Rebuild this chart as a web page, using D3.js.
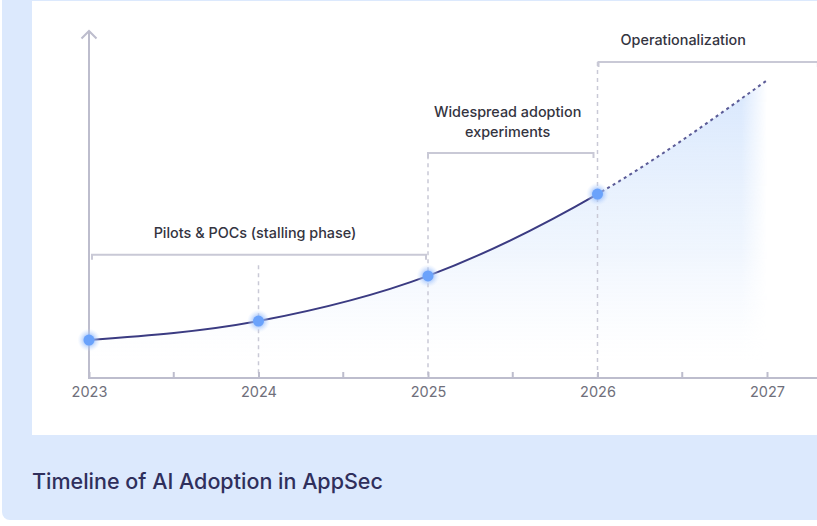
<!DOCTYPE html>
<html>
<head>
<meta charset="utf-8">
<script src="https://cdn.jsdelivr.net/npm/d3@7"></script>
<style>
  html, body { margin: 0; padding: 0; background: #ffffff; }
  svg { display: block; }
</style>
</head>
<body>
<svg id="chart" width="817" height="526"></svg>
<script>
// ---- data ----
const years = [2023, 2024, 2025, 2026, 2027];
const adoption = [11, 16.5, 29.6, 53.3, 86.3];      // relative adoption level (2027 projected)
const projectedFrom = 2026;
const tickYears = [2023, 2024, 2025, 2026, 2027];
const minorTicks = [2023.5, 2024.5, 2025.5, 2026.5];
const phaseNames = [["Pilots & POCs (stalling phase)"], ["Widespread adoption", "experiments"], ["Operationalization"]];
const phaseStart = [2023, 2025, 2026];
const phaseEnd = [2025, 2026, 2027.3];
const phaseLevel = [35.7, 65.2, 91.6];               // bracket heights on the level scale
const titleText = "Timeline of AI Adoption in AppSec";

// ---- layout ----
const svg = d3.select("#chart");
const W = 817, H = 526;
const FONT = "Inter, 'Noto Sans', sans-serif";
const x = d3.scaleLinear().domain([2023, 2027]).range([89, 767]);
const y = d3.scaleLinear().domain([0, 100]).range([378, 33]);

const defs = svg.append("defs");
const vg = defs.append("linearGradient").attr("id", "areaGrad")
  .attr("gradientUnits", "userSpaceOnUse").attr("x1", 0).attr("y1", y(86)).attr("x2", 0).attr("y2", y(5));
vg.append("stop").attr("offset", "0%").attr("stop-color", "#d6e6fd").attr("stop-opacity", 0.95);
vg.append("stop").attr("offset", "60%").attr("stop-color", "#e3eefd").attr("stop-opacity", 0.55);
vg.append("stop").attr("offset", "100%").attr("stop-color", "#eef4fe").attr("stop-opacity", 0);

const hg = defs.append("linearGradient").attr("id", "fadeRight")
  .attr("gradientUnits", "userSpaceOnUse").attr("x1", x(2026.85)).attr("y1", 0).attr("x2", x(2027)).attr("y2", 0);
hg.append("stop").attr("offset", "0%").attr("stop-color", "#fff").attr("stop-opacity", 1);
hg.append("stop").attr("offset", "100%").attr("stop-color", "#fff").attr("stop-opacity", 0);
defs.append("mask").attr("id", "areaMask")
  .append("rect").attr("x", 0).attr("y", 0).attr("width", W).attr("height", H).attr("fill", "url(#fadeRight)");

const glow = defs.append("radialGradient").attr("id", "glow");
glow.append("stop").attr("offset", "40%").attr("stop-color", "#8fb8fb").attr("stop-opacity", 0.75);
glow.append("stop").attr("offset", "100%").attr("stop-color", "#cfe0fd").attr("stop-opacity", 0);

// panels
svg.append("rect").attr("x", 2).attr("y", -12).attr("width", W + 20).attr("height", 532)
  .attr("rx", 8).attr("fill", "#dce9fd");
svg.append("rect").attr("x", 32).attr("y", 1).attr("width", W).attr("height", 434).attr("fill", "#ffffff");

// title
svg.append("text").attr("x", 32).attr("y", 489).text(titleText)
  .attr("font-family", FONT).attr("font-size", 21.5).attr("font-weight", 500)
  .attr("fill", "#2f2f5c");

const pts = years.map((yr, i) => ({ yr, v: adoption[i] }));

// area
const area = d3.area().curve(d3.curveMonotoneX)
  .x(d => x(d.yr)).y0(y(0)).y1(d => y(d.v));
svg.append("path").datum(pts).attr("d", area)
  .attr("fill", "url(#areaGrad)").attr("mask", "url(#areaMask)");

// vertical dashed guides
const guideTop = { 2024: phaseLevel[0] - 3, 2025: phaseLevel[1] - 0.6, 2026: phaseLevel[2] };
svg.selectAll(".guide").data([2024, 2025, 2026]).enter().append("line")
  .attr("x1", d => x(d)).attr("x2", d => x(d))
  .attr("y1", d => y(guideTop[d])).attr("y2", y(0))
  .attr("stroke", "#c9c9d6").attr("stroke-width", 1.5).attr("stroke-dasharray", "4,4");

// axes
const axisColor = "#bdbdcd";
const xAxis = d3.axisBottom(x).tickValues(tickYears).tickFormat(d3.format("d")).tickSize(-6).tickPadding(12);
const gx = svg.append("g").attr("transform", `translate(0,${y(0)})`).call(xAxis);
gx.select(".domain").remove();
gx.selectAll(".tick line").attr("stroke", axisColor).attr("stroke-width", 2);
gx.selectAll(".tick text").attr("font-family", FONT).attr("font-size", 14.5)
  .attr("fill", "#6f6f7b").attr("dy", "0.71em").attr("y", 9);
svg.selectAll(".minor").data(minorTicks).enter().append("line")
  .attr("x1", d => x(d)).attr("x2", d => x(d)).attr("y1", y(0)).attr("y2", y(0) - 6)
  .attr("stroke", axisColor).attr("stroke-width", 2);
svg.append("line").attr("x1", x(2023)).attr("x2", W).attr("y1", y(0)).attr("y2", y(0))
  .attr("stroke", axisColor).attr("stroke-width", 2);
svg.append("line").attr("x1", x(2023)).attr("x2", x(2023)).attr("y1", y(0) + 1).attr("y2", y(100) - 1.5)
  .attr("stroke", axisColor).attr("stroke-width", 2);
svg.append("path")
  .attr("d", `M${x(2023) - 7.5},${y(100) + 5.5} L${x(2023)},${y(100) - 2} L${x(2023) + 7.5},${y(100) + 5.5}`)
  .attr("fill", "none").attr("stroke", axisColor).attr("stroke-width", 2);

// phase brackets
const phases = phaseNames.map((lines, i) => ({ lines, s: phaseStart[i], e: phaseEnd[i], lv: phaseLevel[i] }));
const bracketInset = [[3, 2], [0, 4], [1, 0]];
phases.forEach((p, i) => {
  const x0 = x(p.s) + bracketInset[i][0], x1 = Math.min(x(p.e), W + 5) - bracketInset[i][1];
  const yy = y(p.lv);
  svg.append("path").attr("d", `M${x0},${yy + 5} V${yy} H${x1} V${yy + 5}`)
    .attr("fill", "none").attr("stroke", "#c9c9d6").attr("stroke-width", 2);
  const cx = i === 2 ? x(2026.5) + 1 : i === 1 ? x(2025.47) : (x0 + x1) / 2 - 4;
  const t = svg.append("text").attr("text-anchor", "middle")
    .attr("font-family", FONT).attr("font-size", 14.4).attr("font-weight", 500)
    .attr("fill", "#34343f");
  const n = p.lines.length;
  p.lines.forEach((ln, j) => {
    t.append("tspan").attr("x", cx).attr("y", yy - 16.5 - (n - 1 - j) * 19.5).text(ln);
  });
});

// line: solid up to projection start, dashed after
const line = d3.line().curve(d3.curveMonotoneX).x(d => x(d.yr)).y(d => y(d.v));
defs.append("clipPath").attr("id", "clipSolid").append("rect")
  .attr("x", 0).attr("y", 0).attr("width", x(projectedFrom)).attr("height", H);
defs.append("clipPath").attr("id", "clipDash").append("rect")
  .attr("x", x(projectedFrom)).attr("y", 0).attr("width", W).attr("height", H);
svg.append("path").datum(pts).attr("d", line).attr("fill", "none")
  .attr("stroke", "#3b3b82").attr("stroke-width", 2).attr("clip-path", "url(#clipSolid)");
svg.append("path").datum(pts).attr("d", line).attr("fill", "none")
  .attr("stroke", "#4a4a8c").attr("stroke-width", 2).attr("stroke-dasharray", "3,3.5")
  .attr("opacity", 0.9).attr("clip-path", "url(#clipDash)");

// points
const shown = pts.filter(d => d.yr <= projectedFrom);
svg.selectAll(".halo").data(shown).enter().append("circle")
  .attr("cx", d => x(d.yr)).attr("cy", d => y(d.v)).attr("r", 11.5).attr("fill", "url(#glow)");
svg.selectAll(".pt").data(shown).enter().append("circle")
  .attr("cx", d => x(d.yr)).attr("cy", d => y(d.v)).attr("r", 5.5).attr("fill", "#6aa2fb");
</script>
</body>
</html>
